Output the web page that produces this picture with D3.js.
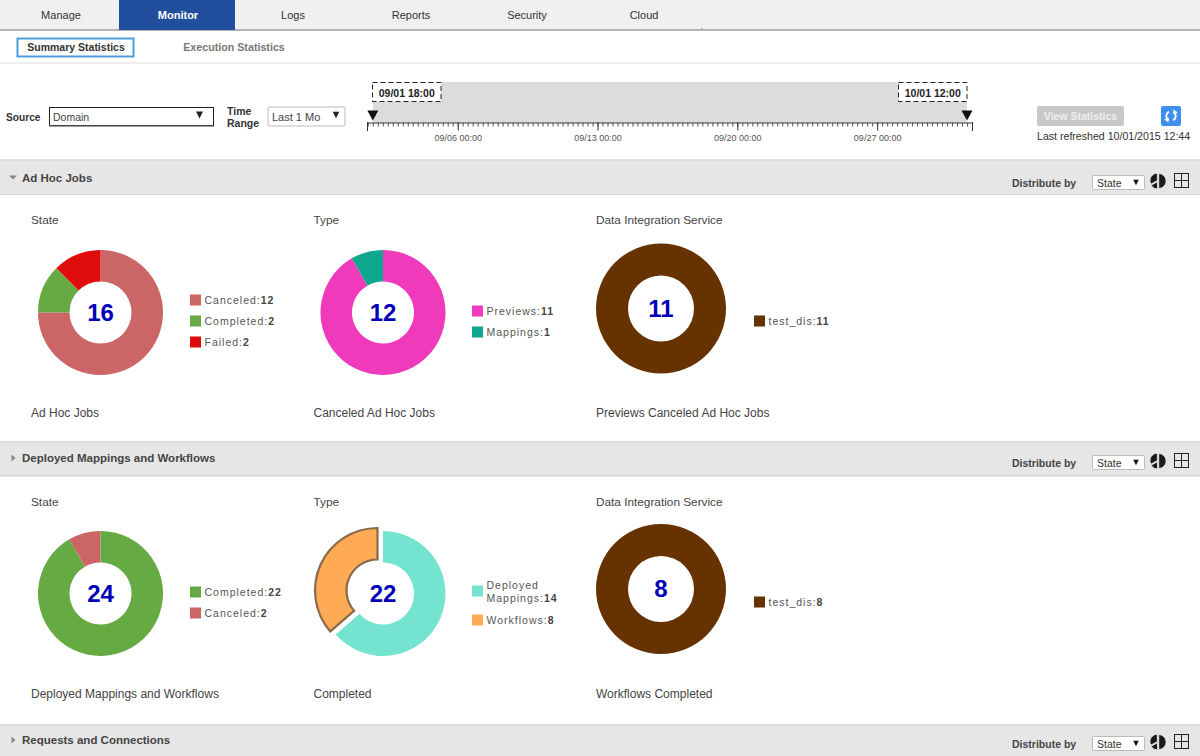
<!DOCTYPE html>
<html><head><meta charset="utf-8">
<script src="https://cdn.jsdelivr.net/npm/d3@7"></script>
<style>
html,body{margin:0;padding:0;background:#fff;overflow:hidden}
svg{display:block}
text{font-family:"Liberation Sans",Arial,sans-serif}
</style></head><body>
<svg id="c" width="1200" height="756"></svg>
<script>
const tabs = ["Manage","Monitor","Logs","Reports","Security","Cloud"];
const tabCenters = [61,178,293,411,527,644];
const adHocState = ["Canceled","Completed","Failed"], adHocStateValues = [12,2,2];
const adHocType = ["Previews","Mappings"], adHocTypeValues = [11,1];
const adHocDis = ["test_dis"], adHocDisValues = [11];
const deployedState = ["Completed","Canceled"], deployedStateValues = [22,2];
const deployedType = ["Deployed Mappings","Workflows"], deployedTypeValues = [14,8];
const deployedDis = ["test_dis"], deployedDisValues = [8];
const timeTicks = ["2015-09-06T00:00Z","2015-09-13T00:00Z","2015-09-20T00:00Z","2015-09-27T00:00Z"];
const timeDomain = ["2015-09-01T11:00Z","2015-10-01T18:00Z"];
const rangeMarks = ["2015-09-01T18:00Z","2015-10-01T12:00Z"];
const rangeLabels = ["09/01 18:00","10/01 12:00"];

const C = {canceled:"#cc6666",completed:"#66aa44",failed:"#e00b0b",previews:"#ee3abb",mappings:"#0fa68e",
  dis:"#663300",deployed:"#74e4d0",workflows:"#ffaa55"};
const svg = d3.select("#c");
const T = (x,y,s,o={})=>svg.append("text").attr("x",x).attr("y",y).text(s)
  .attr("font-size",o.size||12).attr("fill",o.fill||"#333").attr("font-weight",o.weight||"normal")
  .attr("text-anchor",o.anchor||"start").style("letter-spacing",o.ls||"0");
const R = (x,y,w,h,f,o={})=>svg.append("rect").attr("x",x).attr("y",y).attr("width",w).attr("height",h)
  .attr("fill",f).attr("stroke",o.stroke||"none").attr("stroke-width",o.sw||1).attr("rx",o.rx||0)
  .attr("stroke-dasharray",o.dash||null);
const tri = (cx,cy,w,h,f)=>svg.append("path").attr("d",`M${cx-w/2},${cy-h/2}h${w}l${-w/2},${h}z`).attr("fill",f);

// top nav
R(0,0,1200,29,"#f0f0f0");
R(0,29,1200,2,"#b4b4b4");
R(119,0,116,30,"#214f9e");
tabs.forEach((t,i)=>T(tabCenters[i],19,t,{size:11,anchor:"middle",fill:i==1?"#fff":"#333",weight:i==1?"bold":"normal"}));
R(701.5,28,1,1,"#666");

// sub tabs
R(0,62,1200,2,"#eeeeee");
R(17.5,38.5,116,18,"#fff",{stroke:"#4a9fdc",sw:2});
T(76,51,"Summary Statistics",{size:10.5,anchor:"middle",weight:"bold",fill:"#333"});
T(234,51,"Execution Statistics",{size:10.7,anchor:"middle",weight:"bold",fill:"#777"});

// filter row
T(6,120.5,"Source",{size:10.2,weight:"bold"});
R(49.5,107.5,164,18,"#fff",{stroke:"#222",sw:1});
R(49,125,165,1.5,"#444");
T(53,120.5,"Domain",{size:10.5,fill:"#444"});
tri(199.5,115,7,7,"#222");
T(227,115,"Time",{size:10.5,weight:"bold"});
T(227,127,"Range",{size:10.5,weight:"bold"});
R(268,107,77,19,"#fff",{stroke:"#bbb",sw:1,rx:1});
T(272,121,"Last 1 Mo",{size:11,fill:"#444"});
tri(336,115,6.5,6.5,"#222");

// time slider
const tx = d3.scaleUtc().domain(timeDomain.map(d=>new Date(d))).range([367,972]);
const m0 = tx(new Date(rangeMarks[0])), m1 = tx(new Date(rangeMarks[1]));
const axisY = 122.5;
R(m0,82,m1-m0,axisY-82,"#dcdcdc");
const minor = d3.utcHour.every(6).range(...tx.domain());
svg.append("g").attr("transform",`translate(0,${axisY})`)
  .call(d3.axisBottom(tx).tickValues(minor).tickSize(4).tickFormat(""))
  .call(g=>g.select(".domain").attr("stroke","#333").attr("d","M367,0.5H972"))
  .call(g=>g.selectAll("line").attr("stroke","#555"));
const majorVals = timeTicks.map(d=>new Date(d));
const fmt = d3.utcFormat("%m/%d %H:%M");
svg.append("g").attr("transform",`translate(0,${axisY})`)
  .call(d3.axisBottom(tx).tickValues(majorVals).tickSize(8).tickPadding(4).tickFormat(fmt))
  .call(g=>g.select(".domain").remove())
  .call(g=>g.selectAll("line").attr("stroke","#333"))
  .call(g=>g.selectAll("text").attr("font-size",9).attr("fill","#555").attr("font-family","Liberation Sans"));
[367,972].forEach(x=>svg.append("line").attr("x1",x+.5).attr("x2",x+.5).attr("y1",122).attr("y2",131).attr("stroke","#333"));
// range handles
[[m0,372,rangeLabels[0]],[m1,898,rangeLabels[1]]].forEach(([m,bx,l],i)=>{
  const w = 68.5;
  R(bx+.5,82.5,w,19,"#fff",{stroke:"#222",sw:1,dash:"5 3"});
  T(bx+w/2+.5,96.5,l,{size:10.5,weight:"bold",anchor:"middle",fill:"#222"});
  svg.append("path").attr("d",`M${m-5.5},110.5L${m+5.5},110.5L${m},120.5Z`).attr("fill","#111");
});

// view stats
R(1037,106,87,20,"#c8c8c8",{rx:2});
T(1080.5,120,"View Statistics",{size:10.5,weight:"bold",anchor:"middle",fill:"#eee"});
R(1161,106,20,20,"#3d90ec",{rx:2});
const refresh = svg.append("g").attr("transform","translate(1171,116)");
[[0.5,2.7],[3.64,5.84]].forEach(([a,b])=>refresh.append("path")
  .attr("d",d3.arc()({innerRadius:3.8,outerRadius:5.6,startAngle:a,endAngle:b})).attr("fill","#fff"));
refresh.append("path").attr("d","M2.6,-6.4L6.8,-3.6L2.4,-1.6Z").attr("fill","#fff");
refresh.append("path").attr("d","M-2.6,6.4L-6.8,3.6L-2.4,1.6Z").attr("fill","#fff");
T(1037,140,"Last refreshed 10/01/2015 12:44",{size:10.6,fill:"#333"});

// sections
function section(y,h,title,open,dy,ty){
  R(0,y-2,1200,2,"#dddddd");
  R(0,y,1200,h,"#e6e6e6");
  R(0,y+h,1200,1.5,"#d8d8d8");
  const mid = ty-4;
  svg.append("path").attr("fill","#888").attr("d",open?`M9,${mid-2}h8l-4,4z`:`M11.5,${mid-3.5}l4,3.5l-4,3.5z`);
  T(22,ty,title,{size:11.5,weight:"bold",fill:"#444"});
  T(1012,dy,"Distribute by",{size:10.5,weight:"bold",fill:"#444"});
  R(1092.5,dy-11.5,52,14,"#fff",{stroke:"#bbb",rx:1});
  T(1097,dy,"State",{size:10.5,fill:"#333"});
  tri(1136,dy-4.5,5.5,5.5,"#111");
  const pie = d3.pie().sort(null)([5,1.7,3.3]);
  const arc = d3.arc().innerRadius(0).outerRadius(7.5);
  svg.append("g").attr("transform",`translate(1158,${dy-6})`).selectAll("path").data(pie).join("path")
    .attr("d",arc).attr("fill","#1a1a1a").attr("stroke","#e6e6e6").attr("stroke-width",1)
    .attr("transform",d=>{const a=(d.startAngle+d.endAngle)/2;return `translate(${Math.sin(a)*.7},${-Math.cos(a)*.7})`;});
  R(1174.5,dy-13.5,14,14,"none",{stroke:"#222"});
  svg.append("path").attr("d",`M1181.5,${dy-13.5}v14M1174.5,${dy-6.5}h14`).attr("stroke","#222").attr("fill","none");
}
section(161,32.5,"Ad Hoc Jobs",true,187,181.5);
section(443,32,"Deployed Mappings and Workflows",false,467,462);
section(726,31,"Requests and Connections",false,748,744);

// donuts
function donut(o){
  const pie = d3.pie().sort(null).value(d=>d.v)(o.names.map((n,i)=>({n,v:o.values[i],c:o.colors[i]})));
  const arc = d3.arc().innerRadius(o.r0).outerRadius(o.r1);
  const g = svg.append("g").attr("transform",`translate(${o.cx},${o.cy})`);
  g.selectAll("path").data(pie).join("path").attr("d",arc).attr("fill",d=>d.data.c)
    .attr("transform",(d,i)=>o.explode===i?`translate(${o.off})`:null)
    .attr("stroke",(d,i)=>o.explode===i?"#8a6a48":"none").attr("stroke-width",2.2);
  T(o.cx,o.cy+8,d3.sum(o.values),{size:24,weight:"bold",anchor:"middle",fill:"#0000b8"});
  T(o.hx,o.ty,o.head,{size:11.8,fill:"#444"});
  T(o.hx,o.by,o.foot,{size:12,fill:"#444"});
  o.legend.forEach(l=>{
    R(o.lx,l.y-5.5,11,11,l.c);
    const n = l.lines.length;
    l.lines.forEach((tx,i)=>{
      const t = svg.append("text").attr("x",o.lx+14.5).attr("y",l.y+4+(n>1?(i==0?-6.5:6.5):0))
        .attr("font-size",10.5).attr("fill","#555").style("letter-spacing","1px").text(tx);
      if(i==n-1) t.append("tspan").text(l.v).attr("font-weight","bold").attr("fill","#444");
    });
  });
}
const leg = (names,vals,cols,ys)=>names.map((n,i)=>{
  const w = n.split(" ");
  return {c:cols[i],y:ys[i],v:vals[i],lines:w.length>1?[w[0],w[1]+":"]:[n+":"]};
});
donut({names:adHocState,values:adHocStateValues,colors:[C.canceled,C.completed,C.failed],cx:100.5,cy:312.5,r0:31,r1:62.5,hx:31,ty:224,by:417,head:"State",foot:"Ad Hoc Jobs",lx:190,legend:leg(adHocState,adHocStateValues,[C.canceled,C.completed,C.failed],[300,321,342])});
donut({names:adHocType,values:adHocTypeValues,colors:[C.previews,C.mappings],cx:383,cy:312.5,r0:31,r1:62.5,hx:313.5,ty:224,by:417,head:"Type",foot:"Canceled Ad Hoc Jobs",lx:472,legend:leg(adHocType,adHocTypeValues,[C.previews,C.mappings],[311,332])});
donut({names:adHocDis,values:adHocDisValues,colors:[C.dis],cx:661,cy:308.5,r0:33,r1:65,hx:596,ty:224,by:417,head:"Data Integration Service",foot:"Previews Canceled Ad Hoc Jobs",lx:754,legend:leg(adHocDis,adHocDisValues,[C.dis],[321])});
donut({names:deployedState,values:deployedStateValues,colors:[C.completed,C.canceled],cx:100.5,cy:593.5,r0:31,r1:62.5,hx:31,ty:505.5,by:698,head:"State",foot:"Deployed Mappings and Workflows",lx:190,legend:leg(deployedState,deployedStateValues,[C.completed,C.canceled],[592,613])});
donut({names:deployedType,values:deployedTypeValues,colors:[C.deployed,C.workflows],cx:383,cy:593.5,r0:31,r1:62.5,hx:313.5,ty:505.5,by:698,head:"Type",foot:"Completed",lx:472,explode:1,off:"-5.5,-3",legend:leg(deployedType,deployedTypeValues,[C.deployed,C.workflows],[591,620])});
donut({names:deployedDis,values:deployedDisValues,colors:[C.dis],cx:661,cy:589,r0:33,r1:65,hx:596,ty:505.5,by:698,head:"Data Integration Service",foot:"Workflows Completed",lx:754,legend:leg(deployedDis,deployedDisValues,[C.dis],[602])});
</script></body></html>
